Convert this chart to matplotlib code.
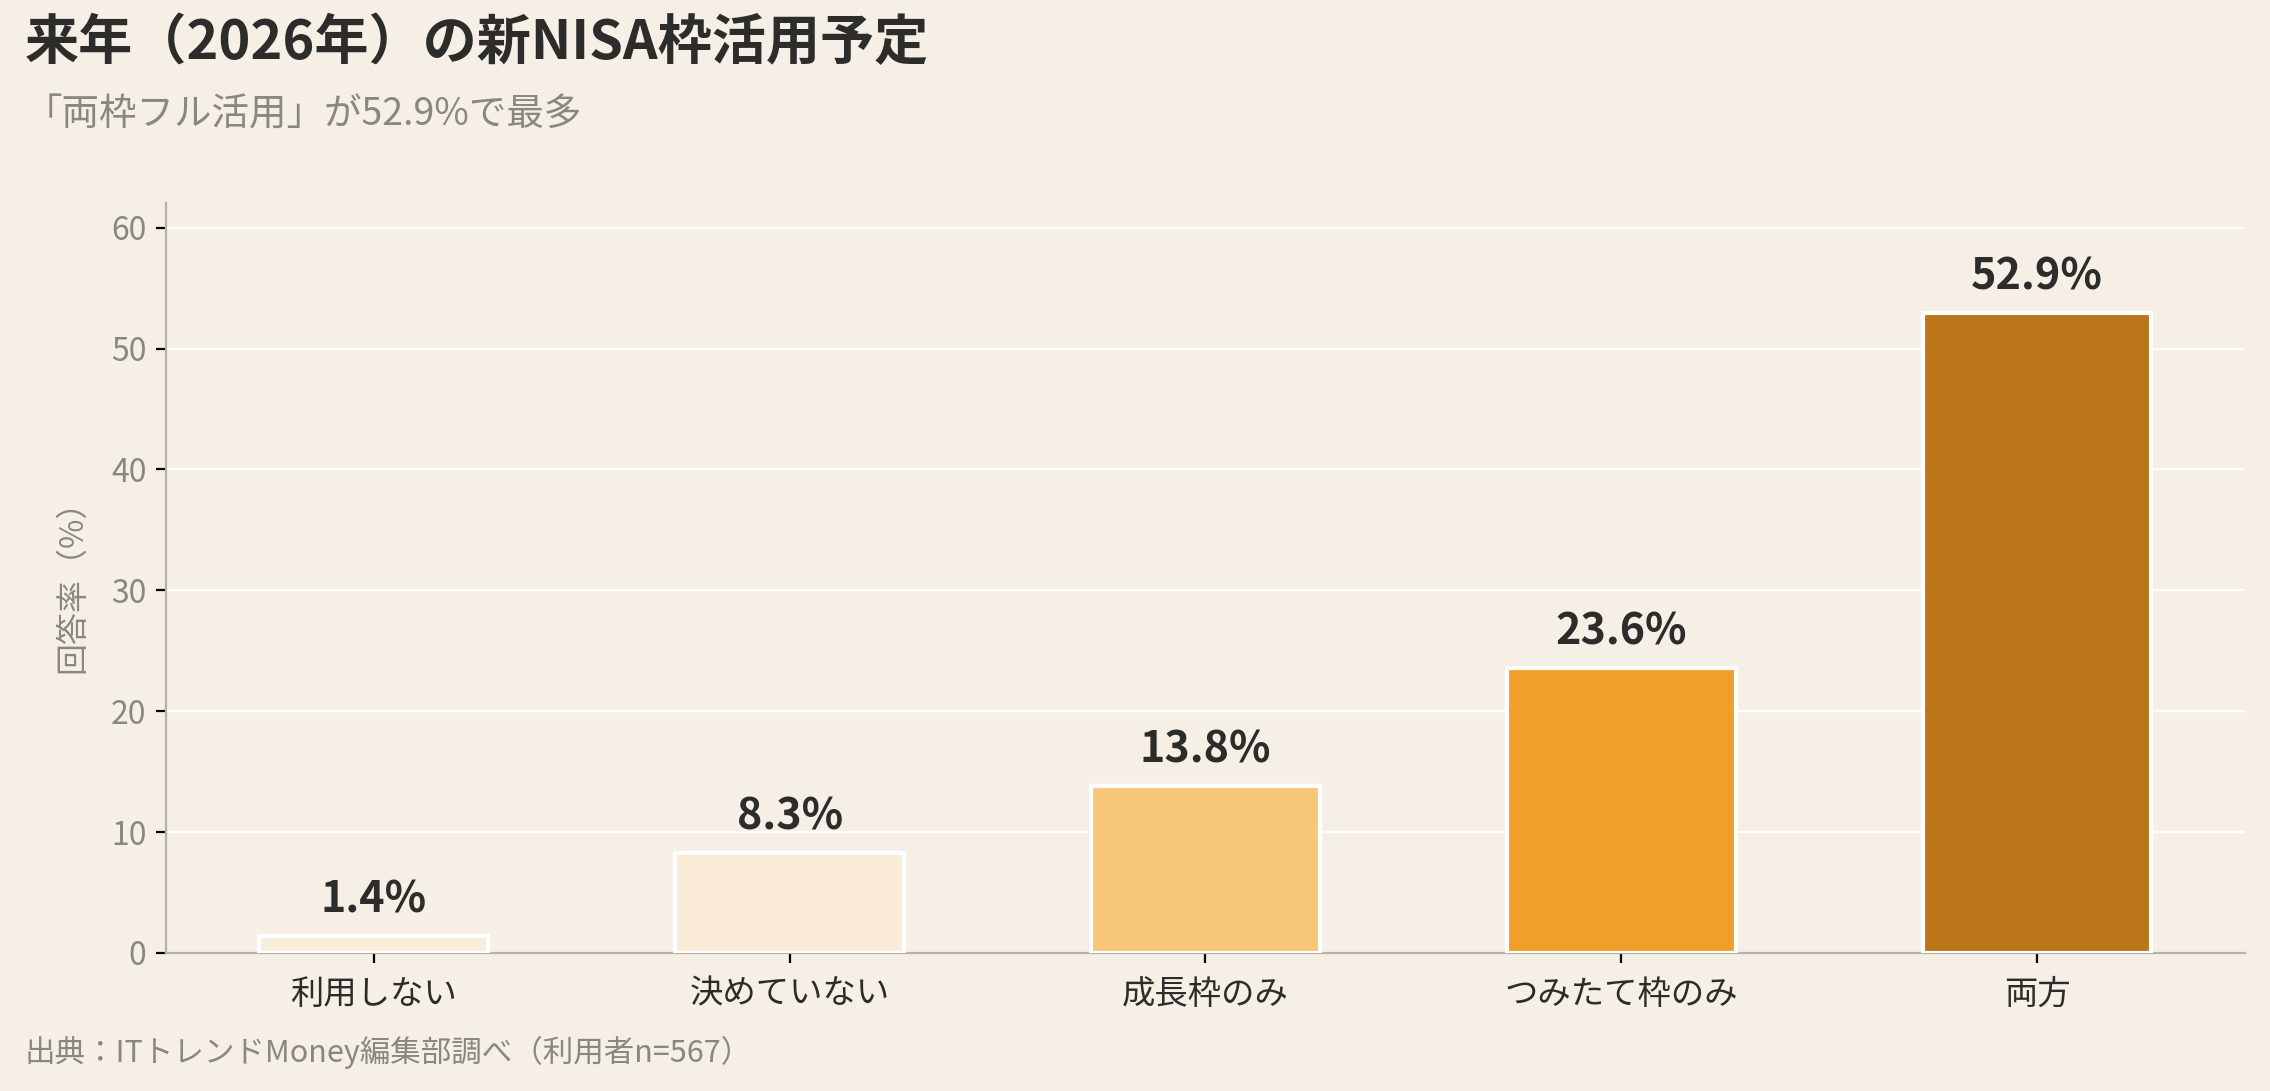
import matplotlib.pyplot as plt
import numpy as np

plt.rcParams['font.family'] = ['Noto Sans CJK JP', 'DejaVu Sans']

categories = ["利用しない", "決めていない", "成長枠のみ", "つみたて枠のみ", "両方"]
values = [1.4, 8.3, 13.8, 23.6, 52.9]
colors = ["#F9EDDC", "#FAEBD7", "#F8C677", "#EF9F2A", "#BA7518"]
yticks = [0, 10, 20, 30, 40, 50, 60]

bg = "#F5EFE6"
dark = "#2C2C2A"
gray = "#888780"

fig = plt.figure(figsize=(11.35, 5.455), dpi=200, facecolor=bg)
ax = fig.add_axes([0.0731, 0.1265, 0.9159, 0.687], facecolor=bg)

x = np.arange(len(categories))
ax.bar(x, values, width=0.55, color=colors, edgecolor="white", linewidth=1.5, zorder=3)

for xi, v in zip(x, values):
    ax.text(xi, v + 1.2, f"{v}%", ha="center", va="bottom", fontsize=15.5,
            fontweight="bold", color=dark, zorder=4)

ax.set_xlim(-0.5, 4.5)
ax.set_ylim(0, 62)
ax.set_yticks(yticks)
ax.set_xticks(x)
ax.set_xticklabels(categories, fontsize=12, color=dark)
ax.tick_params(axis="y", labelsize=11.5, labelcolor=gray, length=3.5, width=0.8, color="black")
ax.tick_params(axis="x", length=3.5, width=0.8, color="black", pad=5)
ax.yaxis.grid(True, color="white", linewidth=0.8, zorder=0)
ax.set_axisbelow(True)

for s in ["top", "right"]:
    ax.spines[s].set_visible(False)
for s in ["left", "bottom"]:
    ax.spines[s].set_color("#B4B2A9")
    ax.spines[s].set_linewidth(0.8)

ax.set_ylabel("回答率（%）", fontsize=11.5, color=gray, labelpad=8)

fig.text(0.011, 0.960, "来年（2026年）の新NISA枠活用予定", fontsize=19.5, fontweight="bold",
         color=dark, ha="left", va="center")
fig.text(0.011, 0.895, "「両枠フル活用」が52.9%で最多", fontsize=13.5, color=gray,
         ha="left", va="center")
fig.text(0.011, 0.035, "出典：ITトレンドMoney編集部調べ（利用者n=567）", fontsize=11,
         color=gray, ha="left", va="center")

fig.savefig("out.png", dpi=200, facecolor=bg)
